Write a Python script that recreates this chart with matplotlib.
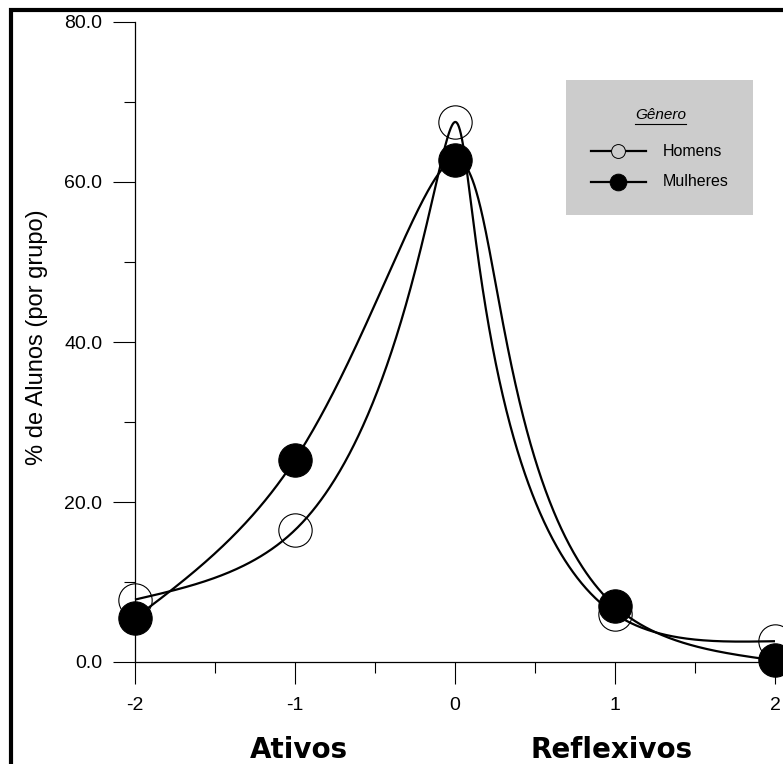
import numpy as np
import matplotlib
matplotlib.use("Agg")
import matplotlib.pyplot as plt
from matplotlib.lines import Line2D
from matplotlib.patches import Rectangle

plt.rcParams['font.family'] = ['Liberation Sans', 'DejaVu Sans']

# ---- data ----
x_vals = [-2, -1, 0, 1, 2]
homens = [7.8, 16.5, 67.5, 6.0, 2.6]
mulheres = [5.5, 25.3, 62.8, 7.0, 0.2]
x_ticklabels = ["-2", "-1", "0", "1", "2"]
y_ticks = [0, 20, 40, 60, 80]
y_ticklabels = ["0.0", "20.0", "40.0", "60.0", "80.0"]
series_names = ["Homens", "Mulheres"]
legend_title = "Gênero"
y_label = "% de Alunos (por grupo)"
group_labels = ["Ativos", "Reflexivos"]

XMIN, XMAX, YMIN, YMAX = -2, 2.05, 0, 80


def natural_spline(t, y, tt):
    n = len(t)
    h = np.diff(t)
    A = np.zeros((n, n))
    r = np.zeros(n)
    A[0, 0] = 1
    A[-1, -1] = 1
    for i in range(1, n - 1):
        A[i, i - 1] = h[i - 1]
        A[i, i] = 2 * (h[i - 1] + h[i])
        A[i, i + 1] = h[i]
        r[i] = 6 * ((y[i + 1] - y[i]) / h[i] - (y[i] - y[i - 1]) / h[i - 1])
    M = np.linalg.solve(A, r)
    out = np.empty_like(tt)
    for k, v in enumerate(tt):
        i = min(np.searchsorted(t, v, side='right') - 1, n - 2)
        i = max(i, 0)
        a = (t[i + 1] - v) / h[i]
        b = (v - t[i]) / h[i]
        out[k] = (a * y[i] + b * y[i + 1]
                  + ((a ** 3 - a) * M[i] + (b ** 3 - b) * M[i + 1]) * h[i] ** 2 / 6)
    return out


def smooth_curve(xs, ys, alpha=1.0):
    xs = np.asarray(xs, float)
    ys = np.asarray(ys, float)
    u = (xs - XMIN) / 4.0
    v = (ys - YMIN) / (YMAX - YMIN)
    d = np.hypot(np.diff(u), np.diff(v)) ** alpha
    t = np.concatenate([[0], np.cumsum(d)])
    tt = np.linspace(0, t[-1], 800)
    uu = natural_spline(t, u, tt)
    vv = natural_spline(t, v, tt)
    return uu * 4.0 + XMIN, vv * (YMAX - YMIN) + YMIN


W, H = 783, 764
fig = plt.figure(figsize=(W / 100, H / 100), dpi=100)
ax = fig.add_axes([135 / W, 1 - 662 / H, (783 - 135) / W, (662 - 22) / H])
ax.set_xlim(XMIN, XMAX)
ax.set_ylim(YMIN, YMAX)

for vals, filled in [(homens, False), (mulheres, True)]:
    cx, cy = smooth_curve(x_vals, vals)
    ax.plot(cx, cy, color='black', lw=1.6, solid_capstyle='butt', zorder=2, clip_on=False)
for vals, filled in [(homens, False), (mulheres, True)]:
    ax.plot(x_vals, vals, linestyle='none', marker='o', markersize=24,
            markerfacecolor='black' if filled else 'none',
            markeredgecolor='black', markeredgewidth=0.8, zorder=3, clip_on=False)

for s in ['top', 'right']:
    ax.spines[s].set_visible(False)
for s in ['left', 'bottom']:
    ax.spines[s].set_linewidth(0.9)

ax.set_xticks(x_vals)
ax.set_xticklabels(x_ticklabels)
ax.set_xticks([-1.5, -0.5, 0.5, 1.5], minor=True)
ax.set_yticks(y_ticks)
ax.set_yticklabels(y_ticklabels)
ax.set_yticks([10, 30, 50, 70], minor=True)
ax.tick_params(axis='both', which='major', direction='out', length=15.5, width=0.8,
               labelsize=14)
ax.tick_params(axis='both', which='minor', direction='out', length=7.8, width=0.8)
ax.tick_params(axis='x', which='major', pad=10)
ax.tick_params(axis='y', which='major', pad=8)

fig.text(37.5 / W, 1 - 337 / H, y_label, rotation=90, ha='center', va='center', fontsize=17)
fig.text(298.5 / W, 1 - 750 / H, group_labels[0], ha='center', va='center',
         fontsize=20, fontweight='bold', family=['DejaVu Sans'])
fig.text(611.5 / W, 1 - 750 / H, group_labels[1], ha='center', va='center',
         fontsize=20, fontweight='bold', family=['DejaVu Sans'])

# legend (manual)
fig.patches.append(Rectangle((566 / W, 1 - 215 / H), (753 - 566) / W, (215 - 80) / H,
                             transform=fig.transFigure, facecolor='#cccccc',
                             edgecolor='none', zorder=0))
fig.text(660.5 / W, 1 - 115 / H, legend_title, ha='center', va='center',
         fontsize=11, style='italic')
fig.lines.append(Line2D([635 / W, 686 / W], [1 - 124 / H, 1 - 124 / H],
                        transform=fig.transFigure, color='black', lw=0.8))
for i, (name, filled) in enumerate(zip(series_names, [False, True])):
    yy = 1 - (151 + 31 * i) / H
    fig.lines.append(Line2D([591 / W, 646 / W], [yy, yy], transform=fig.transFigure,
                            color='black', lw=1.6))
    fig.lines.append(Line2D([618 / W], [yy], transform=fig.transFigure, marker='o',
                            markersize=10 if not filled else 12,
                            markerfacecolor='black' if filled else '#cccccc',
                            markeredgecolor='black', markeredgewidth=0.7, linestyle='none'))
    fig.text(663 / W, yy, name, ha='left', va='center', fontsize=11.5)

# figure frame (left + top)
fx = 11 / W
fy = 1 - 9.5 / H
fig.lines.append(Line2D([fx, fx, 1.01], [-0.01, fy, fy], transform=fig.transFigure,
                        color='black', lw=3.0, solid_joinstyle='miter'))

fig.savefig('out.png', dpi=100)
